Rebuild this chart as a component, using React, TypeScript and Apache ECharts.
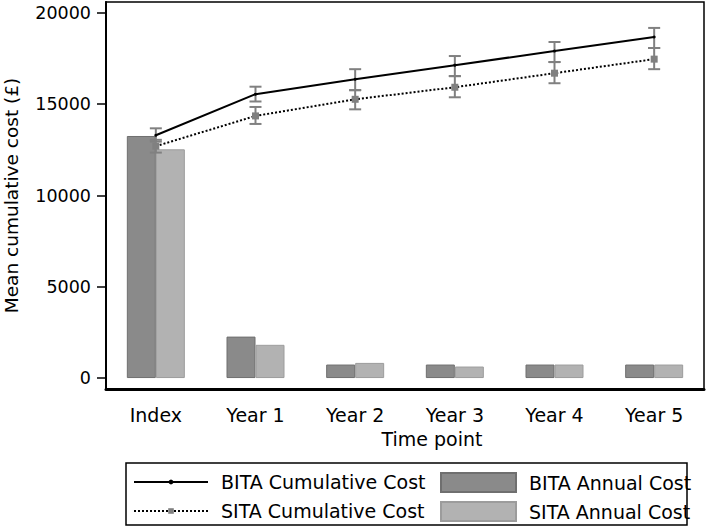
import React, { useEffect, useRef } from "react";
import * as echarts from "echarts";

const categories = ["Index", "Year 1", "Year 2", "Year 3", "Year 4", "Year 5"];
const bitaAnnual = [13260, 2270, 740, 740, 740, 740];
const sitaAnnual = [12530, 1820, 830, 630, 740, 740];
const bitaCumulative = [13300, 15550, 16370, 17140, 17910, 18680];
const bitaLower = [12950, 15150, 15770, 16540, 17310, 18080];
const bitaUpper = [13680, 15960, 16920, 17640, 18410, 19180];
const sitaCumulative = [12700, 14360, 15270, 15930, 16700, 17470];
const sitaLower = [12350, 13920, 14720, 15380, 16150, 16920];
const sitaUpper = [13050, 14850, 15770, 16540, 17310, 18080];
const yTicks = [0, 5000, 10000, 15000, 20000];

const FONT = "'DejaVu Sans', Verdana, sans-serif";

function errorBarRender(params: any, api: any) {
  const x = api.value(0);
  const lo = api.coord([x, api.value(1)]);
  const hi = api.coord([x, api.value(2)]);
  const w = 6;
  const style = { stroke: "#808080", lineWidth: 2 };
  return {
    type: "group",
    children: [
      { type: "line", shape: { x1: lo[0], y1: lo[1], x2: hi[0], y2: hi[1] }, style },
      { type: "line", shape: { x1: lo[0] - w, y1: lo[1], x2: lo[0] + w, y2: lo[1] }, style },
      { type: "line", shape: { x1: hi[0] - w, y1: hi[1], x2: hi[0] + w, y2: hi[1] }, style },
    ],
  };
}

function legendItem(name: string, left: number, top: number, iw: number, ih: number, icon?: string) {
  return {
    data: [icon ? { name, icon } : name],
    left,
    top,
    padding: 0,
    itemWidth: iw,
    itemHeight: ih,
    selectedMode: false,
    textStyle: { fontFamily: FONT, fontSize: 19, color: "#000", lineHeight: 20, padding: [0, 0, 0, 8] },
  };
}

export default function App() {
  const ref = useRef<HTMLDivElement>(null);
  useEffect(() => {
    document.body.style.margin = "0";
    if (!ref.current) return;
    const chart = echarts.init(ref.current, null, { renderer: "svg" });
    const bitaErr = categories.map((_, i) => [i, bitaLower[i], bitaUpper[i]]);
    const sitaErr = categories.map((_, i) => [i, sitaLower[i], sitaUpper[i]]);
    chart.setOption({
      animation: false,
      backgroundColor: "#fff",
      textStyle: { fontFamily: FONT },
      grid: {
        left: 106,
        right: 4,
        top: 2,
        bottom: 138,
        containLabel: false,
        outerBoundsMode: "none",
        show: true,
        borderColor: "#000",
        borderWidth: 1.5,
      },
      legend: [
        legendItem("BITA Cumulative Cost", 133, 472, 74, 6),
        legendItem("SITA Cumulative Cost", 133, 501, 74, 7),
        legendItem("BITA Annual Cost", 440, 472, 75, 19, "rect"),
        legendItem("SITA Annual Cost", 440, 501, 75, 19, "rect"),
      ],
      xAxis: {
        type: "category",
        data: categories,
        boundaryGap: true,
        name: "Time point",
        nameLocation: "middle",
        nameGap: 40,
        nameTextStyle: { fontFamily: FONT, fontSize: 19, color: "#000", padding: [0, 0, 0, 54] },
        axisLine: { onZero: false, lineStyle: { color: "#000", width: 3 } },
        axisTick: { alignWithLabel: true, length: 7, lineStyle: { color: "#000", width: 1.5 } },
        axisLabel: { fontFamily: FONT, fontSize: 19, color: "#000", margin: 16 },
        splitLine: { show: false },
      },
      yAxis: {
        type: "value",
        min: -600,
        max: 20600,
        name: "Mean cumulative cost (£)",
        nameLocation: "middle",
        nameGap: 85,
        nameTextStyle: { fontFamily: FONT, fontSize: 18.5, color: "#000" },
        axisLine: { show: true, onZero: false, lineStyle: { color: "#000", width: 2 } },
        axisTick: { show: true, length: 9, customValues: yTicks, lineStyle: { color: "#000", width: 1.5 } },
        axisLabel: {
          fontFamily: FONT,
          fontSize: 17.5,
          color: "#000",
          margin: 15,
          customValues: yTicks,
          formatter: (v: number) => String(v),
        },
        splitLine: { show: false },
      },
      series: [
        {
          name: "BITA Annual Cost",
          type: "bar",
          data: bitaAnnual,
          barWidth: 29,
          barGap: "0%",
          itemStyle: { color: "#8a8a8a", borderColor: "#6f6f6f", borderWidth: 1 },
          z: 1,
        },
        {
          name: "SITA Annual Cost",
          type: "bar",
          data: sitaAnnual,
          barWidth: 29,
          barGap: "0%",
          itemStyle: { color: "#b2b2b2", borderColor: "#9c9c9c", borderWidth: 1 },
          z: 1,
        },
        {
          name: "BITA Error",
          type: "custom",
          renderItem: errorBarRender,
          data: bitaErr,
          encode: { x: 0, y: [1, 2] },
          z: 3,
        },
        {
          name: "SITA Error",
          type: "custom",
          renderItem: errorBarRender,
          data: sitaErr,
          encode: { x: 0, y: [1, 2] },
          z: 3,
        },
        {
          name: "BITA Cumulative Cost",
          type: "line",
          data: bitaCumulative,
          symbol: "circle",
          symbolSize: 3,
          lineStyle: { color: "#000", width: 2, type: "solid" },
          itemStyle: { color: "#000" },
          z: 4,
        },
        {
          name: "SITA Cumulative Cost",
          type: "line",
          data: sitaCumulative,
          symbol: "rect",
          symbolSize: 7,
          lineStyle: { color: "#000", width: 2, type: "dotted" },
          itemStyle: { color: "#808080" },
          z: 4,
        },
      ],
      graphic: [
        {
          type: "rect",
          shape: { x: 126, y: 463, width: 561, height: 62 },
          style: { fill: "none", stroke: "#000", lineWidth: 1.5 },
          z: 100,
        },
      ],
    });
    return () => chart.dispose();
  }, []);
  return <div ref={ref} style={{ width: 708, height: 527 }} />;
}
